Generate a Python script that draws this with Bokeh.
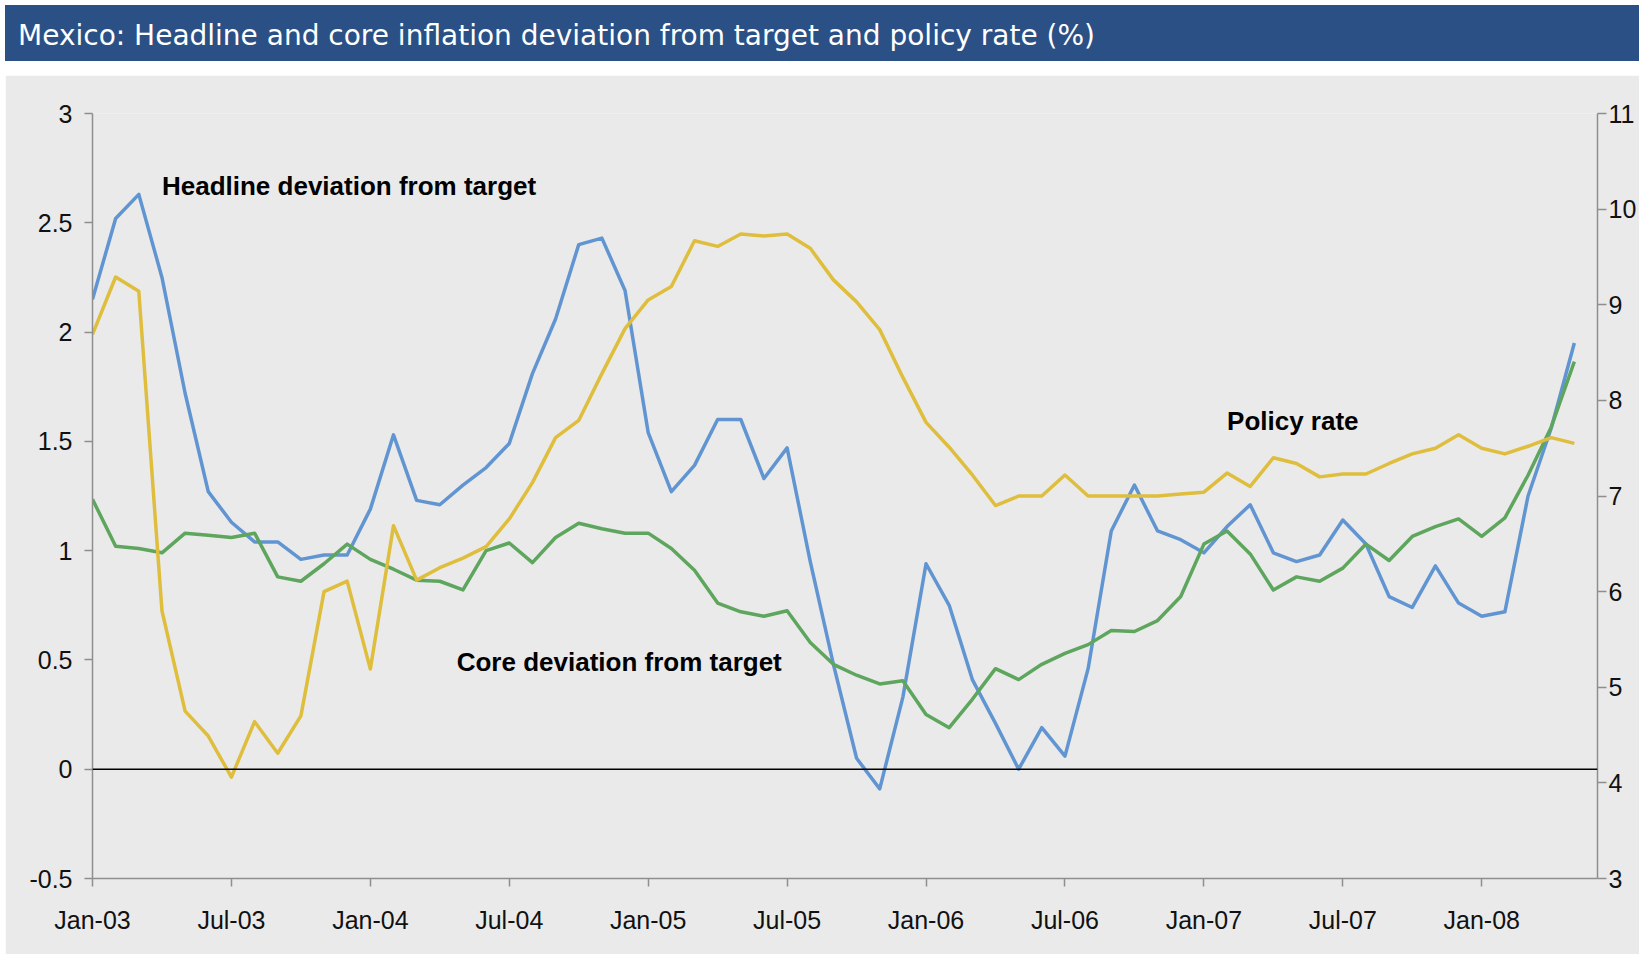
from bokeh.plotting import figure
from bokeh.models import Range1d, LinearAxis, FixedTicker, Spacer, Span, Div
from bokeh.layouts import column, row
from bokeh.embed import file_html
from bokeh.resources import INLINE
from bokeh.core.properties import value

# ---------------- data ----------------
month_names = ["Jan", "Feb", "Mar", "Apr", "May", "Jun",
               "Jul", "Aug", "Sep", "Oct", "Nov", "Dec"]
months = [f"{m}-{y:02d}" for y in range(3, 9) for m in month_names][:65]  # Jan-03 .. May-08

headline = [2.15, 2.52, 2.63, 2.25, 1.72, 1.27, 1.13, 1.04, 1.04, 0.96, 0.98, 0.98,
            1.19, 1.53, 1.23, 1.21, 1.30, 1.38, 1.49, 1.81, 2.06, 2.40, 2.43, 2.19,
            1.54, 1.27, 1.39, 1.60, 1.60, 1.33, 1.47, 0.95, 0.48, 0.05, -0.09, 0.33,
            0.94, 0.75, 0.41, 0.21, 0.00, 0.19, 0.06, 0.46, 1.09, 1.30, 1.09, 1.05,
            0.99, 1.11, 1.21, 0.99, 0.95, 0.98, 1.14, 1.03, 0.79, 0.74, 0.93, 0.76,
            0.70, 0.72, 1.25, 1.56, 1.95]

core = [1.235, 1.02, 1.01, 0.99, 1.08, 1.07, 1.06, 1.08, 0.88, 0.86, 0.94, 1.03,
        0.96, 0.915, 0.865, 0.86, 0.82, 1.00, 1.035, 0.945, 1.06, 1.125, 1.10, 1.08,
        1.08, 1.01, 0.91, 0.76, 0.72, 0.70, 0.725, 0.58, 0.48, 0.43, 0.39, 0.405,
        0.25, 0.19, 0.32, 0.46, 0.41, 0.48, 0.53, 0.57, 0.635, 0.63, 0.68, 0.79,
        1.03, 1.09, 0.985, 0.82, 0.88, 0.86, 0.92, 1.03, 0.955, 1.065, 1.11, 1.145,
        1.065, 1.15, 1.345, 1.565, 1.865]

policy_rate = [8.69, 9.29, 9.14, 5.80, 4.75, 4.49, 4.06, 4.64, 4.31, 4.70, 6.00, 6.11,
               5.19, 6.69, 6.12, 6.25, 6.35, 6.47, 6.76, 7.14, 7.61, 7.79, 8.28, 8.75,
               9.05, 9.19, 9.67, 9.61, 9.74, 9.72, 9.74, 9.59, 9.26, 9.03, 8.74, 8.24,
               7.77, 7.51, 7.22, 6.90, 7.00, 7.00, 7.22, 7.00, 7.00, 7.00, 7.00, 7.02,
               7.04, 7.24, 7.10, 7.40, 7.34, 7.20, 7.23, 7.23, 7.34, 7.44, 7.50, 7.64,
               7.50, 7.44, 7.52, 7.61, 7.55]

x_tick_labels = ["Jan-03", "Jul-03", "Jan-04", "Jul-04", "Jan-05", "Jul-05",
                 "Jan-06", "Jul-06", "Jan-07", "Jul-07", "Jan-08"]
left_ticks = [-0.5, 0, 0.5, 1, 1.5, 2, 2.5, 3]
left_tick_labels = ["-0.5", "0", "0.5", "1", "1.5", "2", "2.5", "3"]
right_ticks = [3, 4, 5, 6, 7, 8, 9, 10, 11]
right_tick_labels = ["3", "4", "5", "6", "7", "8", "9", "10", "11"]

title_text = "Mexico: Headline and core inflation deviation from target and policy rate (%)"

# ---------------- styles ----------------
BLUE = "#6195D2"
GREEN = "#5EA55E"
YELLOW = "#DEBE3C"
BG = "#EAEAEA"
AXIS = "#8E8E8E"
TITLE_BG = "#2A5086"
TICK_FONT = "Liberation Sans"

x = list(range(len(months)))

# ---------------- title bar ----------------
W = 1634
title = Div(text=title_text, width=W, height=56, margin=0,
            styles={"background-color": TITLE_BG, "color": "white",
                    "font-family": "DejaVu Sans", "font-size": "28px",
                    "line-height": "62px", "text-indent": "13px",
                    "white-space": "nowrap", "overflow": "hidden"})

# ---------------- main chart ----------------
p = figure(width=W, height=879, x_range=Range1d(0, 65), y_range=Range1d(-0.5, 3),
           output_backend="svg", toolbar_location=None,
           min_border_left=87, min_border_top=38, min_border_bottom=76, min_border_right=40,
           background_fill_color=BG, border_fill_color=BG, outline_line_color=None)
p.extra_y_ranges = {"rate": Range1d(3, 11)}
p.xgrid.visible = False
p.ygrid.visible = False

xt = [months.index(l) for l in x_tick_labels]
p.xaxis.ticker = FixedTicker(ticks=xt)
p.xaxis.major_label_overrides = {k: l for k, l in zip(xt, x_tick_labels)}
p.yaxis.ticker = FixedTicker(ticks=left_ticks)
p.yaxis.major_label_overrides = {k: l for k, l in zip(left_ticks, left_tick_labels)}

raxis = LinearAxis(y_range_name="rate", ticker=FixedTicker(ticks=right_ticks),
                   major_label_overrides={k: l for k, l in zip(right_ticks, right_tick_labels)})
p.add_layout(raxis, "right")

for ax in [p.xaxis[0], p.yaxis[0], raxis]:
    ax.axis_line_color = AXIS
    ax.axis_line_width = 1.5
    ax.major_tick_line_color = AXIS
    ax.major_tick_line_width = 1.5
    ax.major_tick_in = 0
    ax.major_tick_out = 8
    ax.minor_tick_in = 0
    ax.minor_tick_out = 0
    ax.major_label_text_font = TICK_FONT
    ax.major_label_text_font_size = "25px"
    ax.major_label_text_color = "#111111"
p.xaxis.major_label_standoff = 19
p.yaxis.major_label_standoff = 12
raxis.major_label_standoff = 2
raxis.major_tick_out = 9

p.add_layout(Span(location=0, dimension="width", line_color="black", line_width=1.5))

p.line(x, headline, line_color=BLUE, line_width=3.5, line_join="round")
p.line(x, core, line_color=GREEN, line_width=3.5, line_join="round")
p.line(x, policy_rate, line_color=YELLOW, line_width=3.5, line_join="round", y_range_name="rate")

lab = dict(text_font=value("Liberation Sans"), text_font_style="bold", text_font_size="26px",
           text_baseline="alphabetic", text_align="left", text_color="black")
p.text(x=[3.0], y=[2.669], text=["Headline deviation from target"], **lab)
p.text(x=[15.73], y=[0.492], text=["Core deviation from target"], **lab)
p.text(x=[49.0], y=[1.594], text=["Policy rate"], **lab)

layout = column(Spacer(width=W, height=5),
                row(Spacer(width=5, height=56), title),
                Spacer(width=W, height=14),
                row(Spacer(width=5, height=879), p))

open("out.html", "w").write(file_html(layout, INLINE))
